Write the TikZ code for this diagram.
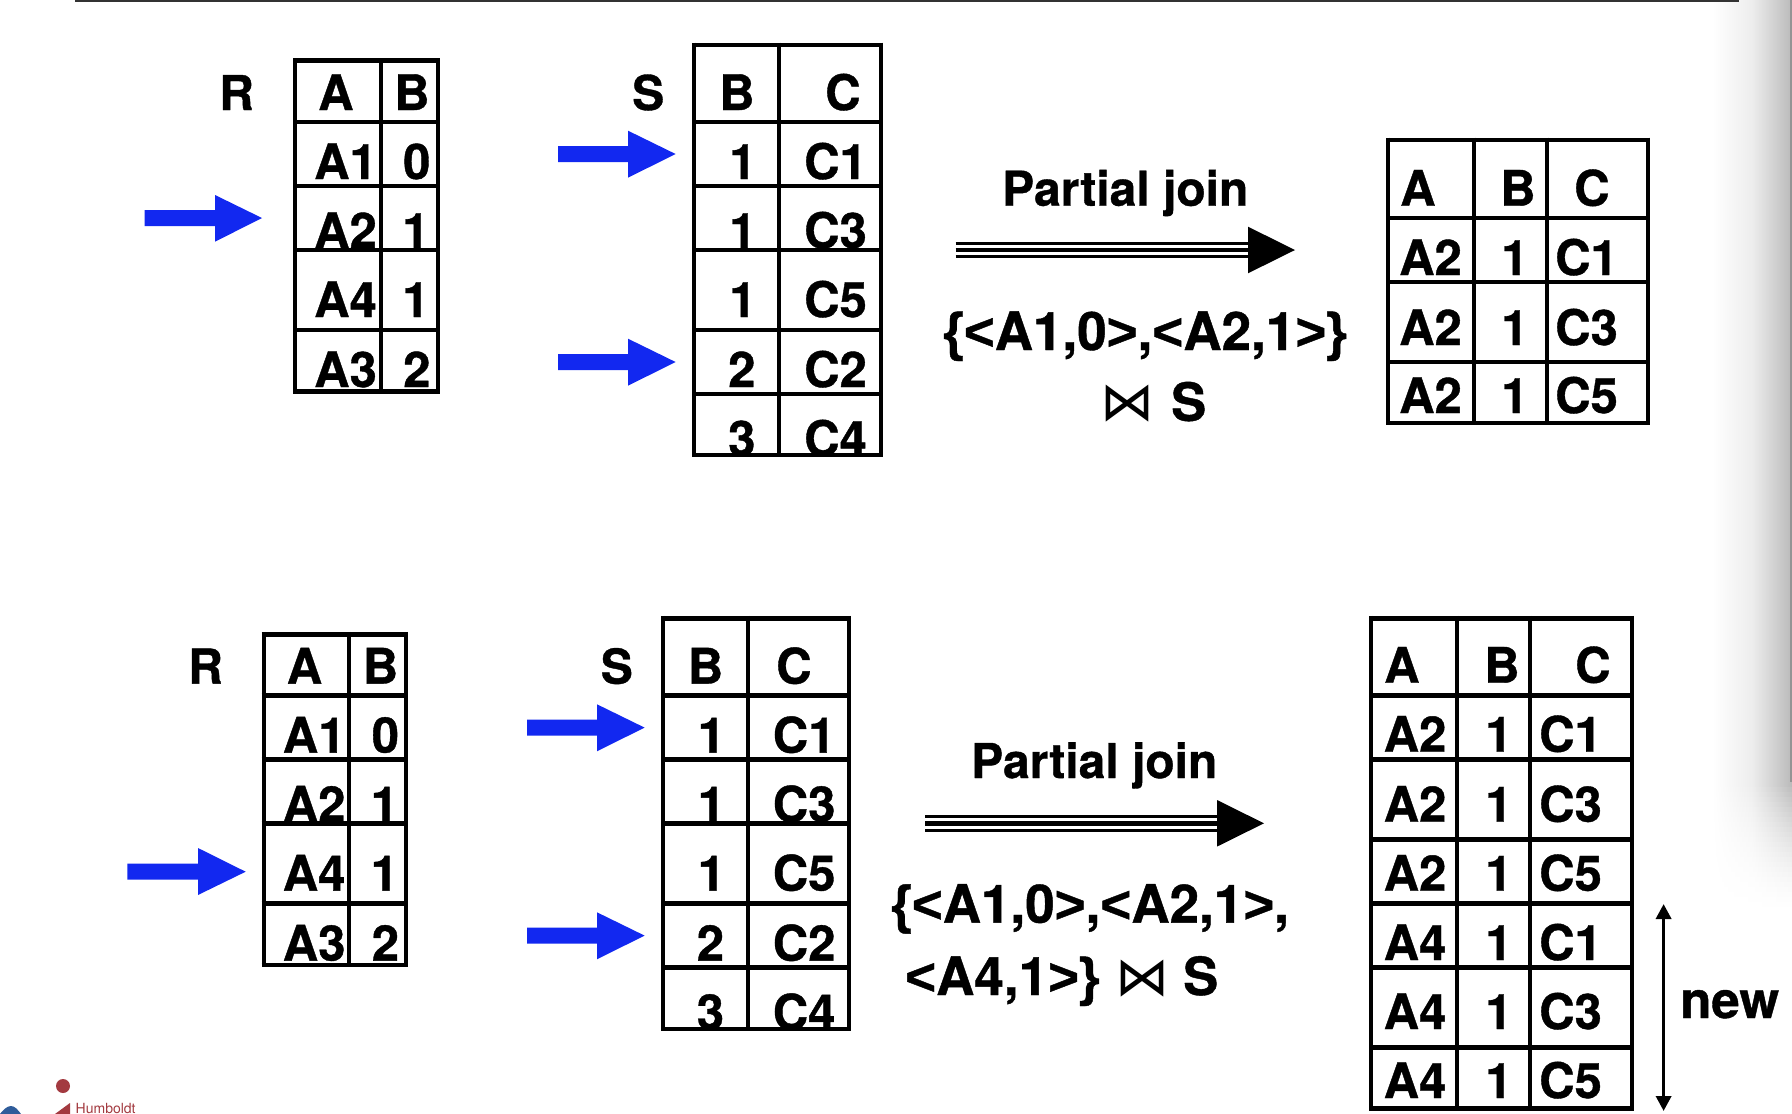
\documentclass[tikz,border=0pt]{standalone}
\usepackage{fontspec}
\setmainfont{TeX Gyre Heros}[BoldFeatures={FakeBold=0.8}]
\newfontfamily\symfont{DejaVu Sans}
\newfontfamily\glyphfont{Liberation Sans}[BoldFeatures={FakeBold=0.8}]
\newcommand{\gl}[1]{{\glyphfont #1}}
\usetikzlibrary{arrows.meta}
\definecolor{arrowblue}{HTML}{1228F0}
\definecolor{logored}{HTML}{A33A40}
\definecolor{logoblue}{HTML}{2F5C9A}
\tikzset{
  x=1pt,y=-1pt,
  cell/.style={anchor=base west,inner sep=0pt,font=\fontsize{49}{49}\selectfont\bfseries},
  caption/.style={anchor=base west,inner sep=0pt,font=\fontsize{48}{48}\selectfont\bfseries},
  setexpr/.style={anchor=base west,inner sep=0pt,font=\fontsize{53}{53}\selectfont\bfseries},
  relname/.style={anchor=base west,inner sep=0pt,font=\fontsize{52.5}{52.5}\selectfont\bfseries},
  bowtie/.style={anchor=base west,inner sep=0pt,font=\fontsize{54}{54}\selectfont\symfont},
  hrule/.style={line width=4.8pt},
  vrule/.style={line width=4pt},
  pointer/.style={fill=arrowblue,draw=none},
  joinhead/.style={fill=black,draw=none},
}
% #1 column rules, #2 row rules, #3/#4 left/right, #5/#6 top/bottom
\newcommand{\tablerules}[6]{%
  \foreach \tx in {#1}{\draw[vrule] (\tx,#5-2.4) -- (\tx,#6+2.4);}%
  \foreach \ty in {#2}{\draw[hrule] (#3-2,\ty) -- (#4+2,\ty);}%
}
\newcommand{\triplearrow}[3]{%
  \draw[line width=3pt] (#1,#3-6.8) -- (#2,#3-6.8) (#1,#3+6.8) -- (#2,#3+6.8);
  \draw[line width=4.6pt] (#1,#3) -- (#2,#3);
  \fill[joinhead] (#2-2,#3-23.3) -- (#2+45,#3) -- (#2-2,#3+23.3) -- cycle;
}
% one band of the slide shadow: #1 top, #2 bottom, #3 strength 0..1
\newcommand{\shadowband}[3]{%
  \pgfmathsetmacro{\shA}{7*#3}%
  \pgfmathsetmacro{\shB}{27*#3}%
  \shade[left color=white,right color=black!\shA] (1712,#1) rectangle (1752,#2);
  \shade[left color=black!\shA,right color=black!\shB] (1752,#1) rectangle (1792,#2);
}
\begin{document}
\begin{tikzpicture}
\useasboundingbox (0,0) rectangle (1792,1114);
\fill[white] (0,0) rectangle (1792,1114);
% slide shadow at right
\shadowband{0}{782}{1}
\fill[black!42] (1790,0) rectangle (1792,782);
\foreach \i in {0,...,25}{
  \pgfmathsetmacro{\strength}{(1-\i/26)^1.6}
  \pgfmathsetmacro{\ya}{782+5*\i}
  \pgfmathsetmacro{\yb}{787+5*\i}
  \shadowband{\ya}{\yb}{\strength}
}
% top rule
\draw[line width=2.5pt,black!80] (75,1) -- (1739,1);

%%% upper row: R
\node[caption] (ra) at (219,110) {R};
\node[cell] at (318,110) {A};
\node[cell] at (394,110) {B};
\node[cell] at (314,179) {A1};
\node[cell] at (403,179) {0};
\node[cell] at (314,248) {A2};
\node[cell] at (402,248) {1};
\node[cell] at (314,317) {A4};
\node[cell] at (402,317) {1};
\node[cell] at (314,387) {A3};
\node[cell] at (403,387) {2};
\tablerules{295,380.5,438}{60.7,122,186,250,330,391.3}{295}{438}{60.7}{391.3}
\fill[pointer] (144.7,210) -- (215,210) -- (215,195) -- (262,218) -- (215,241.7) -- (215,226) -- (144.7,226) -- cycle;

%%% upper row: S
\node[caption] (sa) at (632,110) {S};
\node[cell] at (719,110) {B};
\node[cell] at (825,110) {C};
\node[cell] at (729,179) {1};
\node[cell] at (804,179) {C1};
\node[cell] at (729,248) {1};
\node[cell] at (804,248) {C3};
\node[cell] at (729,317) {1};
\node[cell] at (804,317) {C5};
\node[cell] at (728,387) {2};
\node[cell] at (804,387) {C2};
\node[cell] at (728,456) {3};
\node[cell] at (804,456) {C4};
\tablerules{694,779,880.6}{45,122,186,250,330,394,455}{694}{880.6}{45}{455}
\fill[pointer] (558,146) -- (628,146) -- (628,130.7) -- (675.6,154) -- (628,177.7) -- (628,162) -- (558,162) -- cycle;
\fill[pointer] (558,354) -- (628,354) -- (628,338.7) -- (675.6,362) -- (628,385.7) -- (628,370) -- (558,370) -- cycle;

%%% upper row: join
\node[caption] at (1002,205.7) {Partial join};
\node[setexpr] at (943,350) {\gl{\{<}A1,0\gl{>},\gl{<}A2,1\gl{>\}}};
\node[bowtie] at (1100,420.7) {⋈};
\node[relname] at (1171,420.7) {S};
\triplearrow{955.7}{1250}{250}

%%% upper row: result
\node[cell] at (1400,205.7) {A};
\node[cell] at (1500,205.7) {B};
\node[cell] at (1574,205.7) {C};
\foreach \by/\ctext in {275/C1,345/C3,413/C5}{
  \node[cell] at (1399,\by) {A2};
  \node[cell] at (1501,\by) {1};
  \node[cell] at (1555,\by) {\ctext};
}
\tablerules{1388,1474,1547,1648}{140,218,282,362,423}{1388}{1648}{140}{423}

%%% lower row: R
\node[caption] (rb) at (188,683.6) {R};
\node[cell] at (286.6,683.6) {A};
\node[cell] at (362.6,683.6) {B};
\node[cell] at (282.6,752.6) {A1};
\node[cell] at (371.6,752.6) {0};
\node[cell] at (282.6,821.6) {A2};
\node[cell] at (370.6,821.6) {1};
\node[cell] at (282.6,890.6) {A4};
\node[cell] at (370.6,890.6) {1};
\node[cell] at (282.6,960.6) {A3};
\node[cell] at (371.6,960.6) {2};
\tablerules{263.5,349,406.4}{634.3,695.7,759.7,823.7,903.7,965}{263.5}{406.4}{634.3}{965}
\fill[pointer] (127.4,863.7) -- (198,863.7) -- (198,848) -- (245.7,871.7) -- (198,895) -- (198,879.7) -- (127.4,879.7) -- cycle;

%%% lower row: S
\node[caption] (sb) at (600.6,683.6) {S};
\node[cell] at (687.6,683.6) {B};
\node[cell] at (776,683.6) {C};
\node[cell] at (697.6,752.6) {1};
\node[cell] at (772.6,752.6) {C1};
\node[cell] at (697.6,821.6) {1};
\node[cell] at (772.6,821.6) {C3};
\node[cell] at (697.6,890.6) {1};
\node[cell] at (772.6,890.6) {C5};
\node[cell] at (696.6,960.6) {2};
\node[cell] at (772.6,960.6) {C2};
\node[cell] at (696.6,1029.6) {3};
\node[cell] at (772.6,1029.6) {C4};
\tablerules{663,747.6,849}{618.3,695.7,759.7,823.7,903.7,967.7,1029}{663}{849}{618.3}{1029}
\fill[pointer] (527,719.6) -- (597,719.6) -- (597,704.3) -- (644.6,727.6) -- (597,751.3) -- (597,735.6) -- (527,735.6) -- cycle;
\fill[pointer] (527,927.6) -- (597,927.6) -- (597,912.3) -- (644.6,935.6) -- (597,959.3) -- (597,943.6) -- (527,943.6) -- cycle;

%%% lower row: join
\node[caption] at (971,778) {Partial join};
\node[setexpr] at (891,922.7) {\gl{\{<}A1,0\gl{>},\gl{<}A2,1\gl{>},};
\node[setexpr] at (905,995) {\gl{<}A4,1\gl{>\}}};
\node[bowtie] at (1115,995) {⋈};
\node[relname] at (1183,995) {S};
\triplearrow{925}{1219}{823.3}

%%% lower row: result
\node[cell] at (1384,682.7) {A};
\node[cell] at (1484,682.7) {B};
\node[cell] at (1575,682.7) {C};
\foreach \by/\atext/\ctext in {751.7/A2/C1,821.7/A2/C3,890.7/A2/C5,960/A4/C1,1029/A4/C3,1098/A4/C5}{
  \node[cell] at (1383.5,\by) {\atext};
  \node[cell] at (1485,\by) {1};
  \node[cell] at (1539,\by) {\ctext};
}
\tablerules{1371,1457,1530,1631.6}{618.3,695.7,759.7,839.3,903.7,967.7,1047.3,1108.7}{1371}{1631.6}{618.3}{1108.7}

%%% new marker
\coordinate (newtop) at (1663.6,904);
\coordinate (newbot) at (1663.6,1111);
\draw[line width=3.5pt,{Triangle[length=15pt,width=15pt]}-{Triangle[length=15pt,width=15pt]}] (newtop) -- (newbot);
\node[anchor=base west,inner sep=0pt,font=\fontsize{51}{51}\selectfont\bfseries] (newlabel) at (1680,1018) {new};

%%% logo
\fill[logored] (63,1086) circle (7);
\fill[logored] (55,1114) -- (70,1103) -- (70,1114) -- cycle;
\fill[logoblue] (0,1114) .. controls (3,1110) and (7,1106) .. (11,1106) .. controls (15,1106) and (18,1110) .. (21,1114) -- cycle;
\node[anchor=base west,inner sep=0pt,text=logored,font=\fontsize{14}{14}\selectfont] (logotext) at (75.5,1113) {Humboldt};
\end{tikzpicture}
\end{document}
